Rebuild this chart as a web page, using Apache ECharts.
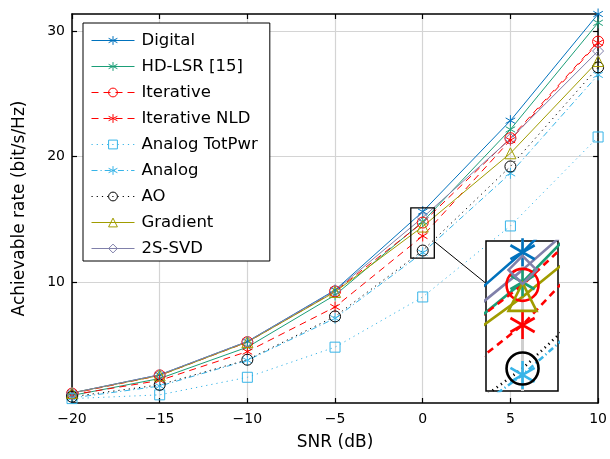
<!DOCTYPE html>
<html>
<head>
<meta charset="utf-8">
<script src="https://cdn.jsdelivr.net/npm/echarts@6/dist/echarts.min.js"></script>
<style>
  html, body { margin: 0; padding: 0; background: #fff; }
  #chart { width: 610px; height: 459px; }
</style>
</head>
<body>
<div id="chart"></div>
<script>
// SNR points (dB)
const snr = [-20, -15, -10, -5, 0, 5, 10];

// Achievable rate (bit/s/Hz) per scheme
const digital      = [1.15, 2.6, 5.25, 9.35, 15.6, 22.85, 31.35];
const hdLsr        = [0.95, 2.3, 4.8, 8.95, 14.8, 22.15, 30.65];
const iterative    = [1.1, 2.55, 5.2, 9.25, 14.73, 21.45, 29.15];
const iterativeNld = [1.0, 2.15, 4.45, 8.0, 13.66, 21.3, 29.05];
const analogTotPwr = [0.7, 1.0, 2.4, 4.8, 8.8, 14.46, 21.55];
const analog       = [0.75, 1.7, 3.75, 7.1, 12.33, 18.65, 26.5];
const ao           = [0.85, 1.8, 3.8, 7.25, 12.5, 19.2, 27.1];
const gradient     = [1.15, 2.55, 5.2, 9.2, 14.41, 20.25, 27.6];
const svd2s        = [1.15, 2.6, 5.25, 9.3, 15.13, 21.4, 28.4];

const xTicks = [-20, -15, -10, -5, 0, 5, 10];
const yTicks = [10, 20, 30];

// six-spoke asterisk marker
const ASTER = 'path://M0,-1L0,1M-0.866,-0.5L0.866,0.5M-0.866,0.5L0.866,-0.5';

const schemes = [
  { name: 'Digital',        data: digital,      color: '#0072BD', line: 'solid',        mark: ASTER },
  { name: 'HD-LSR [15]',    data: hdLsr,        color: '#1b9e77', line: 'solid',        mark: ASTER },
  { name: 'Iterative',      data: iterative,    color: '#ff0000', line: [7, 5],         mark: 'circle' },
  { name: 'Iterative NLD',  data: iterativeNld, color: '#ff0000', line: [7, 5],         mark: ASTER },
  { name: 'Analog TotPwr',  data: analogTotPwr, color: '#36b4e8', line: [1.2, 4],       mark: 'rect' },
  { name: 'Analog',         data: analog,       color: '#36b4e8', line: [6, 3, 1.2, 3], mark: ASTER },
  { name: 'AO',             data: ao,           color: '#000000', line: [1.2, 4],       mark: 'circle' },
  { name: 'Gradient',       data: gradient,     color: '#a09c00', line: 'solid',        mark: 'triangle' },
  { name: '2S-SVD',         data: svd2s,        color: '#8080aa', line: 'solid',        mark: 'diamond' }
];

const FONT = 'DejaVu Sans';
const minus = v => String(v).replace('-', '\u2212');

// zoomed window around SNR = 0 dB
const zoomX = [-0.68, 0.66];
const zoomY = [11.9, 15.9];

function seriesFor(s, inset) {
  const pts = snr.map((x, i) => [x, s.data[i]]);
  const lw = inset ? 2.6 : 1;
  return {
    type: 'line',
    name: s.name,
    data: pts,
    xAxisIndex: inset ? 2 : 0,
    yAxisIndex: inset ? 2 : 0,
    zlevel: inset ? 1 : 0,
    clip: true,
    symbol: s.mark,
    symbolKeepAspect: true,
    symbolSize: inset ? (s.mark === 'circle' ? 32 : 28) : (s.mark === 'rect' ? 10 : 11),
    showAllSymbol: true,
    animation: false,
    lineStyle: { color: s.color, width: lw, type: s.line },
    itemStyle: { color: 'none', borderColor: s.color, borderWidth: inset ? 2.6 : 1 },
    emphasis: { disabled: true }
  };
}

const chart = echarts.init(document.getElementById('chart'), null, { renderer: 'canvas' });

const frameLine = { show: true, onZero: false, lineStyle: { color: '#000', width: 1.5 } };
const inTick = { show: true, inside: true, length: 5, lineStyle: { color: '#000', width: 1.2 } };

const option = {
  backgroundColor: '#fff',
  animation: false,
  textStyle: { fontFamily: FONT },
  grid: [
    { left: 72, right: 10, top: 14, bottom: 56, containLabel: false },
    { left: 486, top: 241, width: 72, height: 150, show: true, backgroundColor: '#fff',
      borderColor: '#000', borderWidth: 1.5, zlevel: 1 }
  ],
  xAxis: [
    {
      type: 'value', gridIndex: 0, min: -20, max: 10, interval: 5, position: 'bottom',
      name: 'SNR (dB)', nameLocation: 'middle', nameGap: 31,
      nameTextStyle: { fontFamily: FONT, fontSize: 17, color: '#000' },
      axisLine: frameLine, axisTick: inTick,
      axisLabel: { fontFamily: FONT, fontSize: 14, color: '#000', margin: 9, formatter: minus },
      splitLine: { show: true, lineStyle: { color: '#d4d4d4', width: 1.2 } }
    },
    {
      type: 'value', gridIndex: 0, min: -20, max: 10, interval: 5, position: 'top',
      axisLine: frameLine, axisTick: inTick, axisLabel: { show: false }, splitLine: { show: false }
    },
    {
      type: 'value', gridIndex: 1, min: zoomX[0], max: zoomX[1], zlevel: 1,
      axisLine: { show: false },
      axisTick: { show: false, customValues: [0] },
      axisLabel: { show: false, customValues: [0] },
      splitLine: { show: true, lineStyle: { color: '#cfcfcf', width: 3 } },
      axisPointer: { show: false }
    }
  ],
  yAxis: [
    {
      type: 'value', gridIndex: 0, min: 0.35, max: 31.35, position: 'left',
      name: 'Achievable rate (bit/s/Hz)', nameLocation: 'middle', nameGap: 44,
      nameTextStyle: { fontFamily: FONT, fontSize: 17, color: '#000' },
      axisLine: frameLine,
      axisTick: Object.assign({ customValues: yTicks }, inTick),
      axisLabel: { fontFamily: FONT, fontSize: 14, color: '#000', margin: 7, customValues: yTicks },
      splitLine: { show: true, lineStyle: { color: '#d4d4d4', width: 1.2 } }
    },
    {
      type: 'value', gridIndex: 0, min: 0.35, max: 31.35, position: 'right',
      axisLine: frameLine,
      axisTick: Object.assign({ customValues: yTicks }, inTick),
      axisLabel: { show: false, customValues: yTicks }, splitLine: { show: false }
    },
    {
      type: 'value', gridIndex: 1, min: zoomY[0], max: zoomY[1], zlevel: 1,
      axisLine: { show: false }, axisTick: { show: false }, axisLabel: { show: false },
      splitLine: { show: false }
    }
  ],
  legend: {
    data: schemes.map(s => ({
      name: s.name,
      lineStyle: { color: s.color, width: 1, type: s.line },
      itemStyle: { color: 'none', borderColor: s.color, borderWidth: 1 }
    })),
    orient: 'vertical',
    left: 83, top: 23,
    padding: [9, 12, 4, 8],
    itemWidth: 43, itemHeight: 11, itemGap: 9,
    backgroundColor: '#fff', borderColor: '#000', borderWidth: 1, borderRadius: 0,
    selectedMode: false,
    textStyle: { fontFamily: FONT, fontSize: 16.5, color: '#000', lineHeight: 16, padding: [0, 0, 0, 2] },
    z: 10
  },
  series: schemes.map(s => seriesFor(s, false)).concat(schemes.map(s => seriesFor(s, true)))
};

chart.setOption(option);

// frame around the zoomed region and the connector to the inset
const p0 = chart.convertToPixel({ xAxisIndex: 0, yAxisIndex: 0 }, [zoomX[0], zoomY[1]]);
const p1 = chart.convertToPixel({ xAxisIndex: 0, yAxisIndex: 0 }, [zoomX[1], zoomY[0]]);
const c0 = chart.convertToPixel({ xAxisIndex: 0, yAxisIndex: 0 }, [zoomX[1], 13.22]);
const c1 = chart.convertToPixel({ xAxisIndex: 2, yAxisIndex: 2 }, [zoomX[0], 14.77]);

chart.setOption({
  graphic: [
    { type: 'rect', z: 20, silent: true,
      shape: { x: p0[0], y: p0[1], width: p1[0] - p0[0], height: p1[1] - p0[1] },
      style: { fill: 'none', stroke: '#000', lineWidth: 1.3 } },
    { type: 'line', z: 20, silent: true,
      shape: { x1: c0[0], y1: c0[1], x2: c1[0], y2: c1[1] },
      style: { stroke: '#000', lineWidth: 1 } }
  ]
});
</script>
</body>
</html>
